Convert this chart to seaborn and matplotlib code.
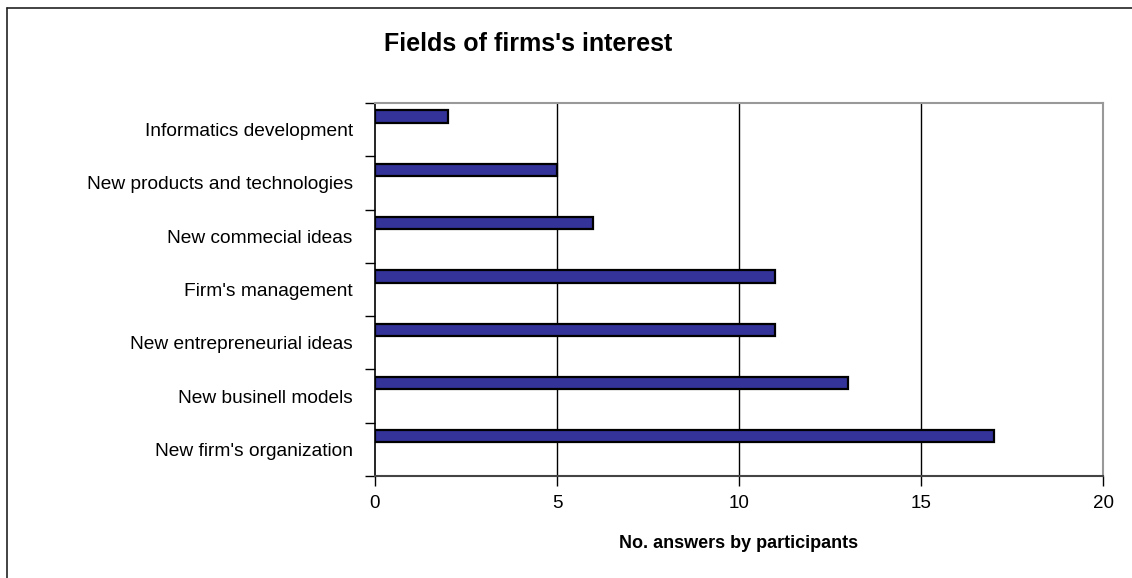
import matplotlib
matplotlib.use("Agg")
import matplotlib.pyplot as plt
import seaborn as sns
import pandas as pd
from matplotlib.lines import Line2D

categories = ["Informatics development", "New products and technologies", "New commecial ideas",
              "Firm's management", "New entrepreneurial ideas", "New businell models",
              "New firm's organization"]
values = [2, 5, 6, 11, 11, 13, 17]
x_ticks = [0, 5, 10, 15, 20]

sns.set_theme(style="white")
plt.rcParams['font.family'] = ['Liberation Sans', 'DejaVu Sans']

df = pd.DataFrame({"category": categories, "value": values})

fig = plt.figure(figsize=(11.32, 5.78), dpi=100)
W, H = 1132, 578
left, right, top, bottom = 375, 1103, 103, 476
ax = fig.add_axes([left / W, 1 - bottom / H, (right - left) / W, (bottom - top) / H])

sns.barplot(data=df, y="category", x="value", orient="h", color="#333399",
            width=0.23, edgecolor="black", linewidth=1.6, saturation=1, ax=ax)
for p in ax.patches:
    p.set_y(p.get_y() - 0.245)

ax.set_xlim(0, 20)
ax.set_ylim(len(categories) - 0.5, -0.5)
ax.set_xticks(x_ticks)
ax.set_xticklabels([str(t) for t in x_ticks], fontsize=13.5, color="black")
ax.set_yticks([i - 0.5 for i in range(len(categories) + 1)])
ax.set_yticklabels([])
ax.set_yticks(range(len(categories)), minor=True)
ax.set_yticklabels(categories, minor=True, fontsize=13.8, color="black")
ax.tick_params(axis="y", which="minor", length=0, pad=16)
ax.tick_params(axis="y", which="major", length=7, width=1, color="black", direction="out", left=True)
ax.tick_params(axis="x", length=7, width=1, color="black", direction="out", bottom=True, pad=7)

for xv in [5, 10, 15]:
    ax.axvline(xv, color="black", linewidth=1, zorder=0)

ax.spines["left"].set_color("black")
ax.spines["left"].set_linewidth(1.2)
ax.spines["bottom"].set_color("#444444")
ax.spines["bottom"].set_linewidth(1.5)
ax.spines["top"].set_color("#999999")
ax.spines["top"].set_linewidth(1.5)
ax.spines["right"].set_color("#999999")
ax.spines["right"].set_linewidth(1.5)

ax.set_xlabel("")
ax.set_ylabel("")
fig.text(528 / W, 1 - 44 / H, "Fields of firms's interest", ha="center", va="center",
         fontsize=18, fontweight="bold", color="black")
fig.text(739 / W, 1 - 544 / H, "No. answers by participants", ha="center", va="center",
         fontsize=13, fontweight="bold", color="black")

# outer chart border (top and left visible)
fig.add_artist(Line2D([7 / W, 1.0], [1 - 8 / H, 1 - 8 / H], transform=fig.transFigure,
                      color="#222222", linewidth=1.2))
fig.add_artist(Line2D([7 / W, 7 / W], [0.0, 1 - 8 / H], transform=fig.transFigure,
                      color="#222222", linewidth=1.2))

fig.savefig("out.png", dpi=100)
